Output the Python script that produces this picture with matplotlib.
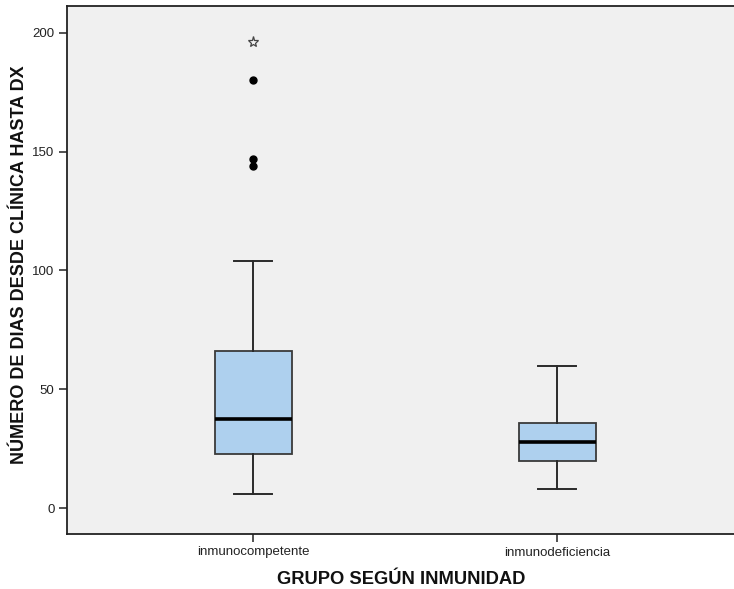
import matplotlib
matplotlib.use("Agg")
import matplotlib.pyplot as plt

# Five-number summaries per immunity group (days from clinical onset to diagnosis)
groups = ["inmunocompetente", "inmunodeficiencia"]
whisker_low = [6, 8]
q1 = [23, 20]
median = [37.5, 28]
q3 = [66, 36]
whisker_high = [104, 60]
outliers = [[144, 147, 180], []]
extremes = [[196], []]

plt.rcParams["font.family"] = ["Liberation Sans", "DejaVu Sans"]

fig = plt.figure(figsize=(7.34, 5.89), dpi=100)
fig.patch.set_facecolor("white")
ax = fig.add_axes([67 / 734, 1 - 534 / 589, 1 - 67 / 734 + 0.002, (534 - 6) / 589])
ax.set_facecolor("#F0F0F0")

positions = [1, 2]
stats = []
for i, g in enumerate(groups):
    stats.append(dict(label=g, whislo=whisker_low[i], q1=q1[i], med=median[i],
                      q3=q3[i], whishi=whisker_high[i], fliers=[]))

ax.bxp(stats, positions=positions, widths=0.252, patch_artist=True,
       showfliers=False,
       boxprops=dict(facecolor="#AED0EE", edgecolor="#3a3a3a", linewidth=1.3),
       medianprops=dict(color="black", linewidth=2.6),
       whiskerprops=dict(color="#2a2a2a", linewidth=1.4),
       capprops=dict(color="#2a2a2a", linewidth=1.4),
       capwidths=0.125, zorder=3)

for p, vals in zip(positions, outliers):
    if vals:
        ax.plot([p] * len(vals), vals, linestyle="none", marker="o",
                markersize=5, color="black", zorder=4)
for p, vals in zip(positions, extremes):
    if vals:
        ax.plot([p] * len(vals), vals, linestyle="none", marker="*",
                markersize=8, markerfacecolor="none", markeredgecolor="#444444",
                markeredgewidth=0.9, zorder=4)

ax.set_xlim(0.388, 2.585)
ax.set_ylim(-10.8, 211.2)
ax.set_yticks([0, 50, 100, 150, 200])
ax.set_xticks(positions)
ax.set_xticklabels(groups)

for side in ["top", "bottom", "left"]:
    ax.spines[side].set_color("#222222")
    ax.spines[side].set_linewidth(1.3)
ax.spines["right"].set_visible(False)

ax.tick_params(axis="both", direction="out", length=6, width=1.2, color="#333333",
               labelsize=9.5, labelcolor="#222222", pad=3)

ax.set_xlabel("GRUPO SEGÚN INMUNIDAD", fontsize=13.2, fontweight="bold",
              color="#111111", labelpad=9)
ax.set_ylabel("NÚMERO DE DIAS DESDE CLÍNICA HASTA DX", fontsize=13,
              fontweight="bold", color="#111111")
ax.yaxis.set_label_coords(-39 / 667, 0.5095)

fig.savefig("out.png", dpi=100)
